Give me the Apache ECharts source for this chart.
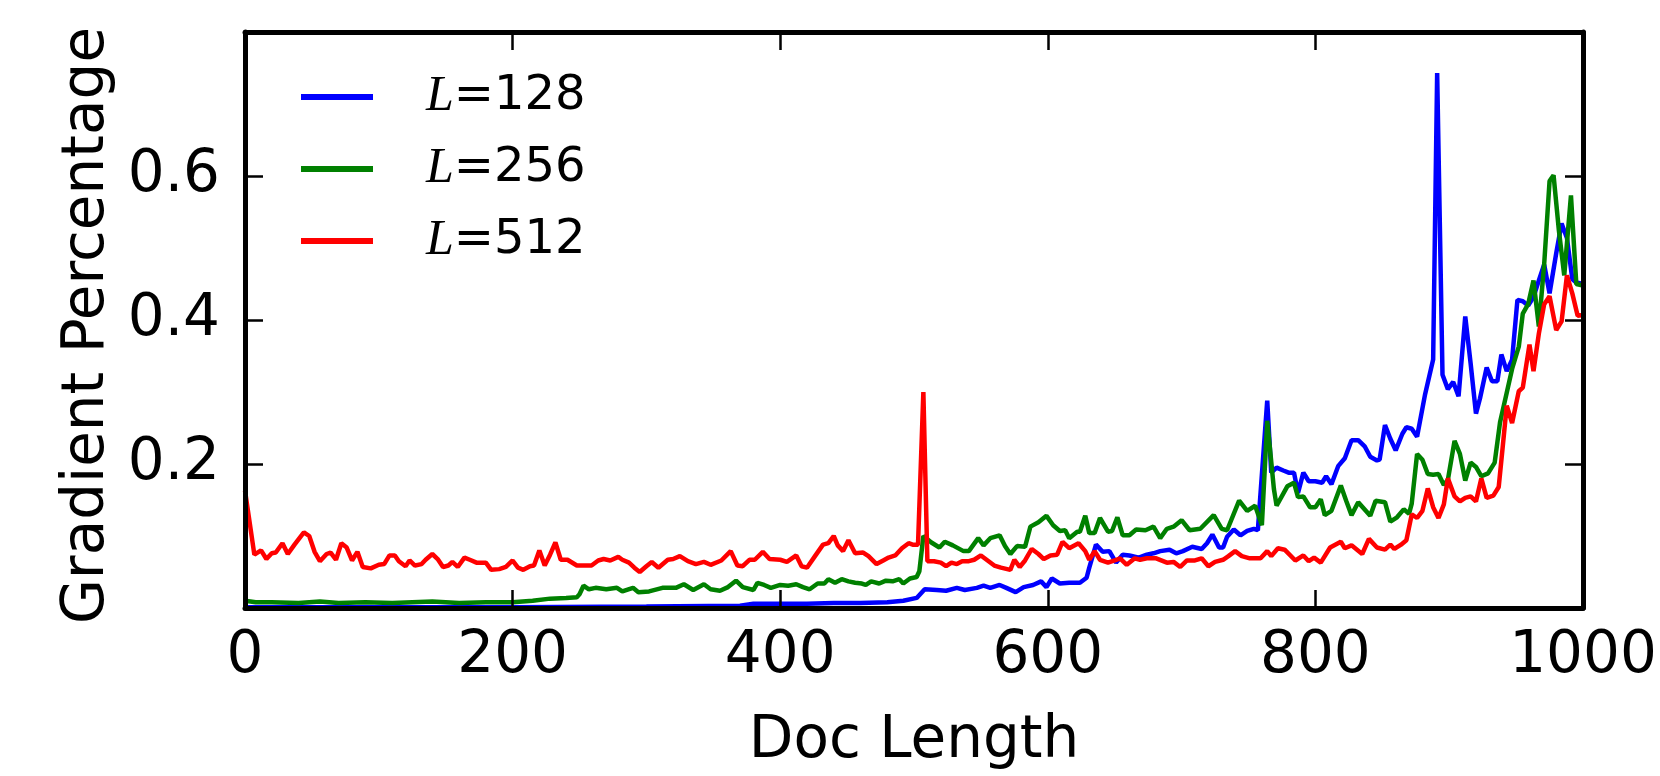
<!DOCTYPE html>
<html>
<head>
<meta charset="utf-8">
<script src="https://cdn.jsdelivr.net/npm/echarts/dist/echarts.min.js"></script>
<style>
  html, body { margin: 0; padding: 0; background: #fff; }
  #main { width: 1660px; height: 776px; }
</style>
</head>
<body>
<div id="main"></div>
<script>
// gradient percentage vs doc length, one [x, y] list per window size
var xTicks = [0, 200, 400, 600, 800, 1000];
var yTicks = [0.2, 0.4, 0.6];
var names = ['L=128', 'L=256', 'L=512'];
var colors = ['#0000ff', '#008000', '#ff0000'];

var blue = [[0,0.001],[100,0.001],[200,0.001],[300,0.002],[370,0.003],[380,0.006],[400,0.006],[420,0.006],[440,0.007],[460,0.007],[480,0.008],[492,0.010],[502,0.014],[508,0.026],[517,0.025],[524,0.024],[532,0.028],[538,0.025],[547,0.028],[552,0.031],[557,0.028],[564,0.032],[569,0.028],[576,0.022],[582,0.029],[589,0.032],[595,0.037],[599,0.029],[603,0.041],[609,0.034],[616,0.035],[624,0.035],[629,0.042],[631,0.056],[636,0.088],[641,0.078],[646,0.079],[651,0.063],[656,0.074],[661,0.073],[668,0.070],[674,0.074],[679,0.076],[684,0.079],[691,0.081],[696,0.076],[701,0.079],[708,0.085],[715,0.082],[719,0.090],[723,0.102],[728,0.084],[731,0.084],[734,0.099],[739,0.109],[744,0.101],[749,0.107],[754,0.110],[757,0.108],[764,0.288],[767,0.188],[771,0.195],[776,0.191],[780,0.188],[784,0.188],[787,0.160],[791,0.188],[795,0.176],[800,0.176],[805,0.174],[808,0.183],[812,0.172],[817,0.197],[822,0.208],[827,0.233],[832,0.233],[837,0.224],[841,0.210],[846,0.205],[848,0.206],[852,0.254],[856,0.235],[860,0.219],[865,0.242],[868,0.251],[872,0.249],[876,0.238],[882,0.297],[888,0.345],[891,0.743],[895,0.324],[899,0.304],[903,0.314],[907,0.294],[912,0.405],[916,0.340],[920,0.270],[923,0.291],[928,0.334],[932,0.315],[936,0.315],[939,0.352],[943,0.329],[947,0.345],[951,0.428],[955,0.426],[959,0.420],[963,0.432],[967,0.455],[971,0.477],[975,0.437],[980,0.493],[984,0.534],[988,0.514],[992,0.457],[995,0.452],[1000,0.450]];

var green = [[0,0.010],[8,0.008],[20,0.008],[40,0.007],[56,0.009],[70,0.007],[90,0.008],[110,0.007],[140,0.009],[160,0.007],[180,0.008],[200,0.008],[215,0.010],[228,0.013],[240,0.014],[248,0.015],[250,0.019],[253,0.031],[257,0.026],[262,0.028],[270,0.026],[278,0.028],[282,0.023],[290,0.028],[294,0.022],[302,0.023],[312,0.028],[322,0.028],[328,0.033],[335,0.025],[343,0.033],[348,0.026],[355,0.024],[361,0.029],[367,0.038],[372,0.029],[380,0.025],[383,0.035],[388,0.032],[393,0.028],[400,0.032],[406,0.031],[412,0.033],[417,0.029],[422,0.026],[428,0.034],[433,0.034],[436,0.040],[441,0.035],[446,0.040],[451,0.037],[456,0.035],[461,0.034],[464,0.032],[468,0.037],[474,0.034],[479,0.038],[484,0.037],[489,0.040],[492,0.034],[497,0.041],[502,0.043],[504,0.051],[507,0.100],[513,0.091],[519,0.084],[523,0.092],[529,0.087],[537,0.079],[541,0.079],[548,0.097],[552,0.087],[557,0.097],[564,0.101],[568,0.086],[572,0.075],[577,0.086],[583,0.085],[587,0.113],[593,0.119],[599,0.128],[604,0.115],[609,0.107],[613,0.108],[616,0.097],[622,0.106],[624,0.106],[628,0.128],[631,0.104],[635,0.104],[639,0.125],[645,0.106],[648,0.107],[652,0.126],[656,0.101],[661,0.101],[666,0.109],[673,0.108],[679,0.113],[684,0.097],[689,0.110],[694,0.113],[700,0.122],[706,0.108],[714,0.110],[724,0.129],[730,0.110],[734,0.108],[743,0.149],[749,0.135],[755,0.142],[760,0.115],[764,0.260],[769,0.165],[771,0.142],[779,0.169],[784,0.174],[787,0.154],[791,0.155],[796,0.140],[800,0.140],[804,0.151],[807,0.129],[812,0.135],[819,0.170],[823,0.149],[827,0.129],[832,0.147],[841,0.128],[845,0.149],[852,0.147],[856,0.120],[861,0.126],[866,0.137],[870,0.131],[872,0.145],[876,0.214],[880,0.206],[884,0.186],[888,0.185],[892,0.186],[896,0.171],[899,0.178],[904,0.232],[908,0.214],[912,0.177],[916,0.202],[920,0.196],[924,0.183],[929,0.187],[934,0.202],[938,0.258],[943,0.299],[947,0.332],[952,0.363],[955,0.409],[959,0.422],[963,0.455],[967,0.391],[971,0.478],[975,0.593],[978,0.601],[982,0.524],[986,0.462],[991,0.573],[995,0.450],[1000,0.448]];

var red = [[0,0.163],[7,0.074],[12,0.080],[16,0.068],[20,0.076],[23,0.077],[28,0.090],[32,0.075],[37,0.088],[44,0.105],[48,0.100],[52,0.078],[56,0.065],[61,0.075],[64,0.077],[68,0.067],[72,0.090],[76,0.084],[80,0.066],[84,0.078],[88,0.057],[94,0.055],[100,0.060],[104,0.061],[108,0.073],[112,0.073],[115,0.065],[120,0.058],[123,0.066],[127,0.059],[132,0.061],[135,0.067],[140,0.075],[144,0.068],[148,0.057],[152,0.059],[155,0.064],[159,0.057],[164,0.070],[168,0.067],[173,0.063],[180,0.063],[184,0.053],[190,0.054],[195,0.057],[200,0.066],[204,0.056],[208,0.053],[213,0.058],[216,0.059],[220,0.080],[224,0.059],[228,0.074],[232,0.091],[236,0.067],[241,0.067],[248,0.059],[253,0.059],[259,0.059],[264,0.066],[268,0.068],[273,0.066],[279,0.071],[282,0.067],[287,0.063],[291,0.056],[295,0.050],[300,0.058],[304,0.064],[309,0.056],[316,0.067],[320,0.068],[325,0.072],[331,0.065],[337,0.061],[343,0.064],[348,0.060],[356,0.066],[363,0.079],[368,0.059],[372,0.058],[377,0.067],[381,0.067],[387,0.078],[392,0.068],[400,0.067],[405,0.064],[412,0.073],[416,0.058],[420,0.056],[426,0.072],[432,0.088],[436,0.090],[440,0.100],[443,0.087],[447,0.079],[451,0.094],[456,0.076],[462,0.077],[466,0.072],[472,0.061],[477,0.066],[481,0.070],[486,0.073],[491,0.083],[496,0.090],[499,0.088],[503,0.088],[507,0.300],[510,0.065],[515,0.065],[520,0.063],[524,0.058],[528,0.063],[532,0.061],[536,0.065],[541,0.065],[545,0.067],[550,0.073],[555,0.066],[560,0.059],[565,0.056],[572,0.053],[575,0.067],[579,0.057],[583,0.066],[588,0.082],[593,0.075],[597,0.068],[602,0.073],[607,0.074],[611,0.092],[616,0.083],[623,0.090],[628,0.079],[631,0.067],[635,0.079],[639,0.067],[645,0.063],[650,0.066],[654,0.069],[659,0.060],[665,0.069],[669,0.067],[674,0.069],[681,0.069],[689,0.063],[694,0.064],[699,0.057],[704,0.066],[710,0.066],[715,0.069],[720,0.058],[725,0.064],[731,0.067],[735,0.072],[740,0.079],[745,0.072],[751,0.069],[759,0.069],[764,0.079],[767,0.072],[772,0.083],[777,0.081],[785,0.066],[791,0.073],[795,0.065],[799,0.070],[804,0.063],[811,0.084],[819,0.092],[822,0.083],[827,0.087],[835,0.075],[840,0.096],[846,0.084],[852,0.081],[856,0.088],[859,0.082],[864,0.088],[868,0.094],[872,0.130],[876,0.125],[880,0.135],[884,0.166],[888,0.140],[892,0.125],[896,0.144],[899,0.180],[904,0.155],[908,0.148],[912,0.153],[916,0.155],[920,0.148],[924,0.180],[928,0.153],[933,0.156],[937,0.168],[940,0.224],[943,0.281],[947,0.257],[952,0.301],[955,0.306],[960,0.366],[963,0.329],[967,0.381],[971,0.422],[975,0.433],[980,0.386],[984,0.398],[988,0.462],[992,0.437],[996,0.406],[1000,0.407]];

var chart = echarts.init(document.getElementById('main'));

var font = 'DejaVu Sans';
var tickStyle = { show: true, inside: true, length: 18, lineStyle: { color: '#000', width: 2.5 } };
// onZero off so the top / right axes stay on their own edges
var lineStyle = { show: true, onZero: false, lineStyle: { color: '#000', width: 5 } };

function hideLabel() { return { show: false }; }

var option = {
  animation: false,
  backgroundColor: '#fff',
  color: colors,
  grid: {
    left: 245,
    right: 77,
    top: 32,
    bottom: 160
  },
  legend: {
    orient: 'vertical',
    left: 301,
    top: 72,
    padding: 0,
    itemGap: 22,
    itemWidth: 72,
    itemHeight: 6,
    icon: 'rect',
    data: names,
    selectedMode: false,
    formatter: function (name) {
      return '{it|L}' + name.slice(1);
    },
    textStyle: {
      fontFamily: font,
      fontSize: 48,
      lineHeight: 48,
      color: '#000',
      padding: [0, 0, 0, 48],
      rich: {
        it: {
          fontFamily: 'Liberation Serif',
          fontStyle: 'italic',
          fontSize: 50,
          lineHeight: 48,
          color: '#000'
        }
      }
    }
  },
  xAxis: [
    {
      type: 'value',
      min: 0,
      max: 1000,
      interval: 200,
      z: 10,
      axisLine: lineStyle,
      axisTick: tickStyle,
      splitLine: { show: false },
      axisLabel: {
        margin: 20,
        fontFamily: font,
        fontSize: 58,
        color: '#000',
        showMinLabel: true,
        showMaxLabel: true,
        formatter: function (v) { return xTicks.indexOf(v) >= 0 ? String(v) : ''; }
      },
      name: 'Doc Length',
      nameLocation: 'middle',
      nameGap: 105,
      nameTextStyle: { fontFamily: font, fontSize: 58, color: '#000' }
    },
    {
      type: 'value',
      position: 'top',
      min: 0,
      max: 1000,
      interval: 200,
      z: 10,
      axisLine: lineStyle,
      axisTick: tickStyle,
      splitLine: { show: false },
      axisLabel: hideLabel()
    }
  ],
  yAxis: [
    {
      type: 'value',
      min: 0,
      max: 0.8,
      interval: 0.2,
      z: 10,
      axisLine: lineStyle,
      axisTick: tickStyle,
      splitLine: { show: false },
      axisLabel: {
        margin: 25,
        fontFamily: font,
        fontSize: 58,
        color: '#000',
        formatter: function (v) {
          var r = Math.round(v * 10) / 10;
          return yTicks.indexOf(r) >= 0 ? r.toFixed(1) : '';
        }
      },
      name: 'Gradient Percentage',
      nameLocation: 'middle',
      nameGap: 127,
      nameTextStyle: { fontFamily: font, fontSize: 58, color: '#000', padding: [0, 11, 0, 0] }
    },
    {
      type: 'value',
      position: 'right',
      min: 0,
      max: 0.8,
      interval: 0.2,
      z: 10,
      axisLine: lineStyle,
      axisTick: tickStyle,
      splitLine: { show: false },
      axisLabel: hideLabel()
    }
  ],
  series: [
    { name: names[0], type: 'line', symbol: 'none', data: blue, lineStyle: { width: 4.5, color: colors[0] } },
    { name: names[1], type: 'line', symbol: 'none', data: green, lineStyle: { width: 4.5, color: colors[1] } },
    { name: names[2], type: 'line', symbol: 'none', data: red, lineStyle: { width: 4.5, color: colors[2] } }
  ]
};

chart.setOption(option);
</script>
</body>
</html>
